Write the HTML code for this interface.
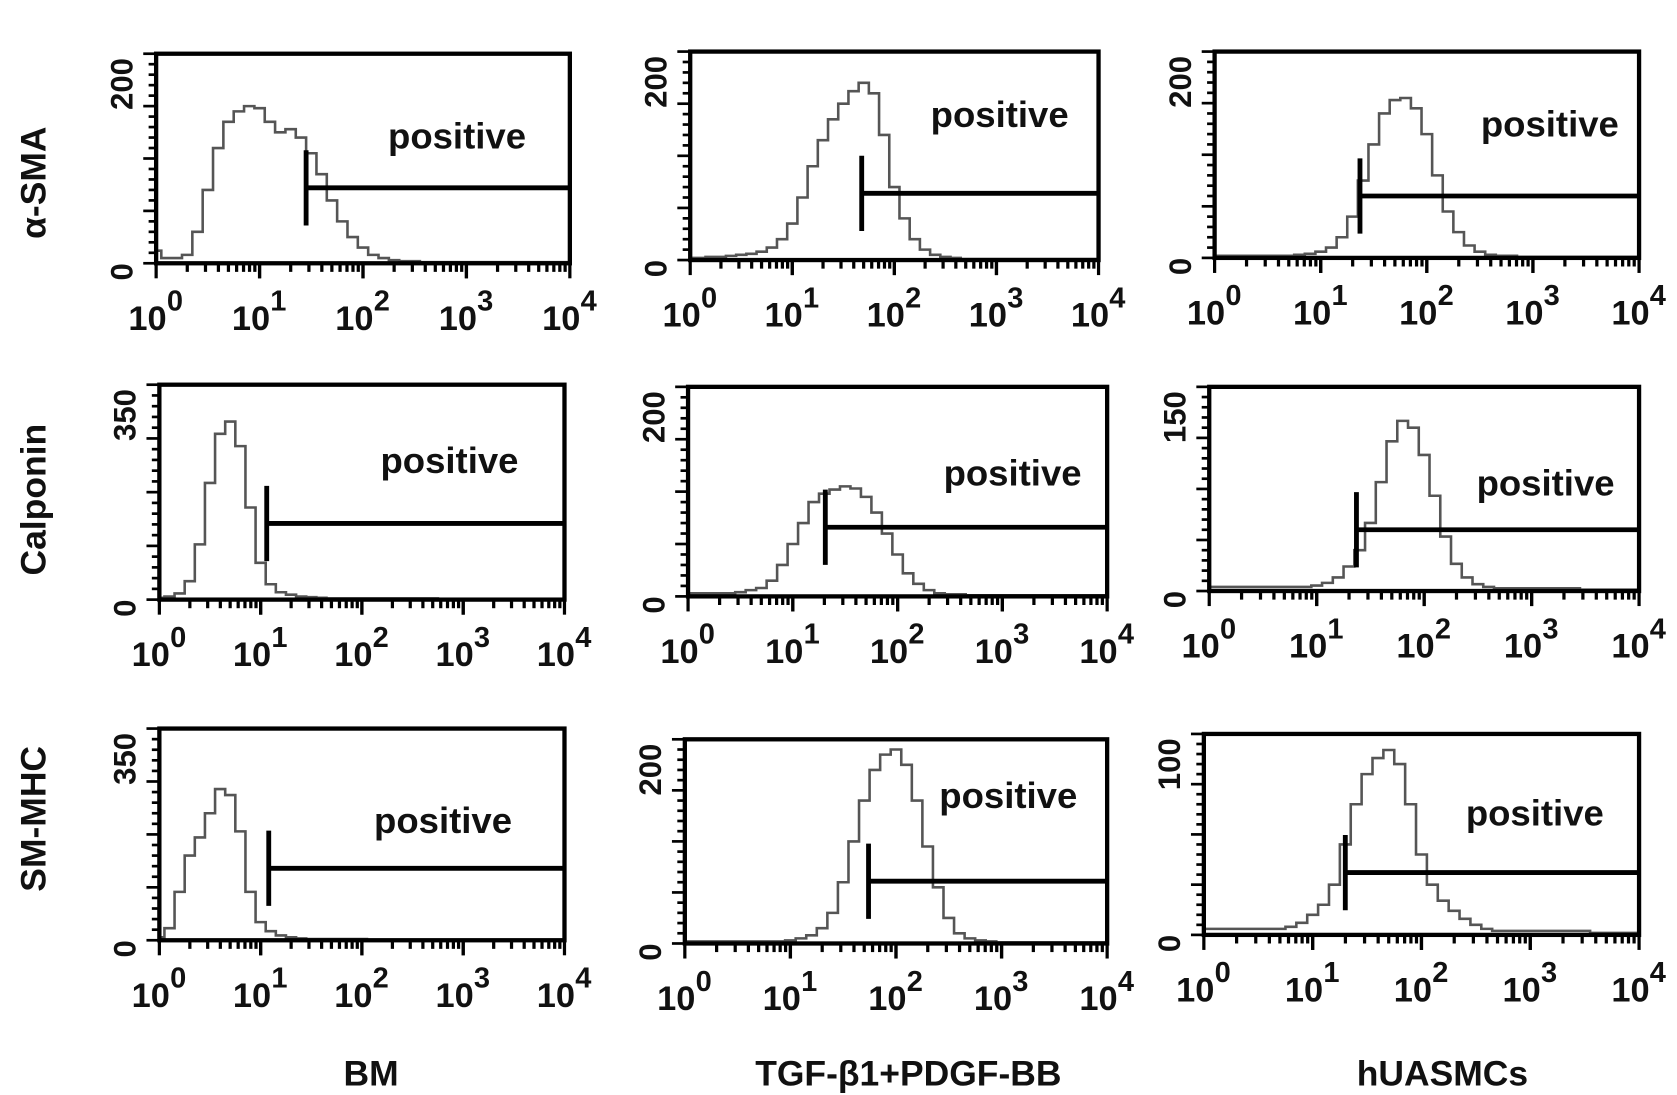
<!DOCTYPE html>
<html><head><meta charset="utf-8">
<style>
html,body{margin:0;padding:0;background:#fff;}
svg{display:block;}
text{font-family:"Liberation Sans",Arial,sans-serif;font-weight:bold;fill:#111;}
</style></head>
<body>
<svg id="fig" width="1677" height="1095" viewBox="0 0 1560 1019" xmlns="http://www.w3.org/2000/svg">
<g>
<text transform="translate(42,170) rotate(-90)" text-anchor="middle" font-size="33">α-SMA</text>
<text transform="translate(42,465) rotate(-90)" text-anchor="middle" font-size="33">Calponin</text>
<text transform="translate(42,762) rotate(-90)" text-anchor="middle" font-size="33">SM-MHC</text>
</g>
<g>
<text x="345" y="1010" text-anchor="middle" font-size="33">BM</text>
<text x="845" y="1010" text-anchor="middle" font-size="33">TGF-β1+PDGF-BB</text>
<text x="1342" y="1010" text-anchor="middle" font-size="33">hUASMCs</text>
</g>
<g id="panels"></g>
</svg>
<script>
// log decades 0..4 step 0.1 (41 bins)
const counts11=[12,5,5,8,30,70,110,135,145,150,148,135,125,128,120,105,85,60,40,25,15,8,5,3,2,2,1,1,1,1,1,1,1,1,1,1,1,1,1,1,1];
const counts12=[2,2,3,3,4,5,6,8,12,20,35,60,90,115,135,150,162,170,160,120,70,40,20,10,5,3,2,1,1,1,1,1,1,1,1,1,1,1,1,1,1];
const counts13=[2,2,2,2,2,2,2,2,3,4,6,10,20,40,75,110,140,153,155,145,120,80,45,25,12,6,3,2,2,1,1,1,1,1,1,1,1,1,1,1,1];
const counts21=[3,5,10,30,90,190,270,290,250,150,60,25,12,8,5,4,3,2,2,2,2,2,2,2,2,2,2,2,1,1,1,1,1,1,1,1,1,1,1,1,1];
const counts22=[3,3,3,3,3,4,6,8,15,30,50,70,90,98,102,105,103,95,80,60,40,22,12,6,3,2,2,1,1,1,1,1,1,1,1,1,1,1,1,1,1];
const counts23=[3,3,3,3,3,3,3,3,3,3,4,6,10,18,30,50,80,110,125,120,100,70,40,20,10,5,3,2,2,2,2,2,2,2,2,1,1,1,1,1,1];
const counts31=[5,20,80,140,170,210,250,240,180,80,30,15,8,5,3,2,2,2,2,2,2,1,1,1,1,1,1,1,1,1,1,1,1,1,1,1,1,1,1,1,1];
const counts32=[2,2,2,2,2,2,2,2,2,2,3,5,8,15,30,60,100,140,170,185,190,175,140,95,55,25,10,5,3,2,1,1,1,1,1,1,1,1,1,1,1];
const counts33=[3,3,3,3,3,3,3,3,4,6,10,15,25,45,65,80,88,92,85,65,40,25,17,12,8,5,3,2,2,2,2,2,2,2,2,2,1,1,1,1,1];
const yMaxes=[200,200,200,350,200,150,350,200,100];
const gateLogs=[1.45,1.68,1.37,1.06,1.31,1.37,1.08,1.74,1.30];
const gateCounts=[72,64,60,124,66,45,119,61,31];
const tickLabels=["0","1","2","3","4"];

const allCounts=[counts11,counts12,counts13,counts21,counts22,counts23,counts31,counts32,counts33];
const boxes=[[145,50,385,195],[642,48,380,194],[1130,48,395,192],
[148,358,377,200],[640,360,390,195],[1125,360,400,190],
[148,678,377,197],[637,688,393,190],[1120,683,405,187]];
const labelPos=[[425,138],[930,118],[1442,127],[418,440],[942,452],[1438,461],[412,775],[938,752],[1428,768]];
const NS="http://www.w3.org/2000/svg";
const root=document.getElementById('panels');
function mk(tag,attrs,parent){const e=document.createElementNS(NS,tag);for(const k in attrs)e.setAttribute(k,attrs[k]);parent.appendChild(e);return e;}

allCounts.forEach((counts,i)=>{
  const [bx,by,bw,bh]=boxes[i];
  const xs=v=>bx+v/4*bw;
  const ys=c=>by+bh-c/yMaxes[i]*bh;
  const g=mk('g',{},root);
  
  
  let d='';
  counts.forEach((c,j)=>{
    const x0=xs(Math.max(0,j*0.1-0.05)),x1=xs(Math.min(4,j*0.1+0.05)),y=ys(c);
    d+=(j===0?'M'+x0+','+y:'L'+x0+','+y)+'L'+x1+','+y;
  });
  const p=mk('path',{d:d,fill:'none',stroke:'#555','stroke-width':2.4},g);
  
  
  const r=mk('rect',{x:bx,y:by,width:bw,height:bh,fill:'none',stroke:'#000','stroke-width':4},g);
  
  
  for(let k=0;k<=20;k++){
    const y=by+bh-k/20*bh;const L=(k%5===0)?12:7;
    const t=mk('line',{x1:bx,x2:bx-L,y1:y,y2:y,stroke:'#000','stroke-width':2.5},g);
    
    
  }
  for(let dec=0;dec<4;dec++){
    for(let m=1;m<=10;m++){
      const v=dec+Math.log10(m);const x=xs(v);const L=(m===1||m===10)?14:8;
      const t=mk('line',{x1:x,x2:x,y1:by+bh,y2:by+bh+L,stroke:'#000','stroke-width':3},g);
      
      
    }
  }
  tickLabels.forEach((lab,k)=>{
    const x=xs(+lab);
    const t=mk('text',{x:x-8,y:by+bh+62,'text-anchor':'middle','font-size':32},g);
    t.textContent='10';
    
    
    const s=mk('text',{x:x+10,y:by+bh+44,'text-anchor':'start','font-size':27},g);
    s.textContent=lab;
    
    
  });
  const yl=mk('text',{transform:`translate(${bx-22},${by+4}) rotate(-90)`,'text-anchor':'end','font-size':29},g);
  yl.textContent=String(yMaxes[i]);
  
  
  const y0=mk('text',{transform:`translate(${bx-22},${by+bh+8}) rotate(-90)`,'text-anchor':'middle','font-size':29},g);
  y0.textContent='0';
  
  
  const gx=xs(gateLogs[i]),gy=ys(gateCounts[i]);
  const gl=mk('path',{d:`M${gx},${gy-35}L${gx},${gy+35}M${gx},${gy}L${bx+bw},${gy}`,stroke:'#000','stroke-width':4.5,fill:'none'},g);
  
  
  const pt=mk('text',{x:labelPos[i][0],y:labelPos[i][1],'text-anchor':'middle','font-size':34},g);
  pt.textContent='positive';
  
  
});
</script>
</body></html>
